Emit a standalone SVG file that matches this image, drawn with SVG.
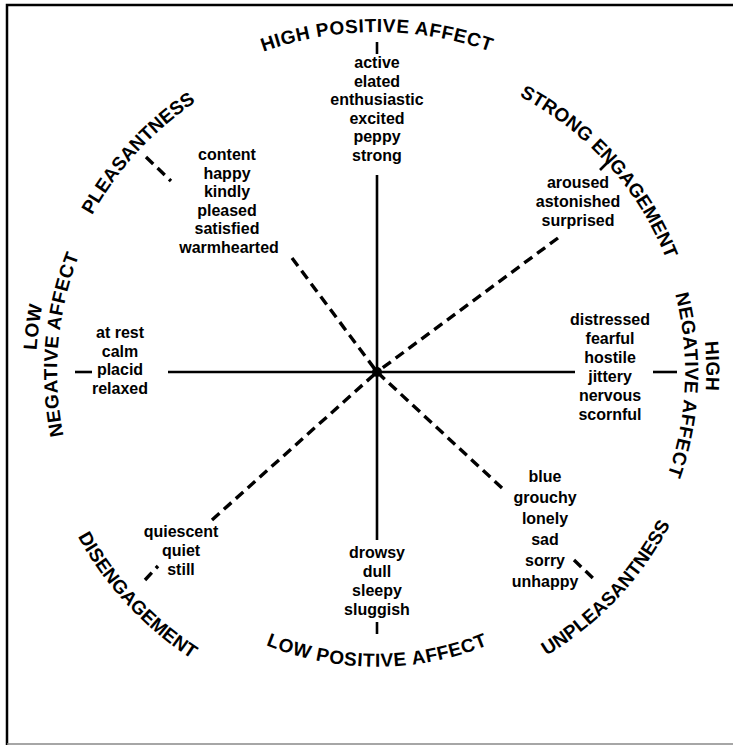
<svg xmlns="http://www.w3.org/2000/svg" width="733" height="745" viewBox="0 0 733 745">
<style>
.lab{font-family:"Liberation Sans",Arial,sans-serif;font-weight:700;font-size:19px;letter-spacing:0.6px;fill:#000}
.tight{letter-spacing:0.1px}
.w{font-family:"Liberation Sans",Arial,sans-serif;font-weight:700;font-size:16px;fill:#000;text-anchor:middle}
.solid{stroke:#000;stroke-width:2.6;fill:none}
.dash{stroke:#000;stroke-width:3.4;fill:none;stroke-dasharray:10 6}
.frame{stroke:#000;stroke-width:2.5;fill:none}
</style>
<defs>
<path id="pHPA" d="M38.3,342.4 A340,340 0 0 1 715.7,342.4"/>
<path id="pSE" d="M165.6,137.2 A316,316 0 0 1 588.4,606.8"/>
<path id="pPL" d="M154.4,614.9 A329.5,329.5 0 0 1 599.6,129.1"/>
<path id="pLOW" d="M332.5,710.1 A341,341 0 0 1 421.5,33.9"/>
<path id="pLNA" d="M349.1,690.8 A320,320 0 0 1 404.9,53.2"/>
<path id="pHIGH" d="M371.2,37.1 A335,335 0 0 1 382.8,706.9"/>
<path id="pHNA" d="M390.5,62.3 A310,310 0 0 1 363.5,681.7"/>
<path id="pUN" d="M149.7,613.3 A331.5,331.5 0 0 0 604.3,130.7"/>
<path id="pLPA" d="M83.6,397.7 A294.5,294.5 0 0 0 670.4,397.7"/>
<path id="pDIS" d="M144.1,122.2 A341.5,341.5 0 0 0 609.9,621.8"/>
</defs>
<rect width="733" height="745" fill="#fff"/>
<g id="frame">
<path class="frame" d="M7,745 V5 H733"/>
<path d="M7,744 H733" stroke="#888" stroke-width="1.5"/>
</g>
<g id="connectors">
<line class="solid" x1="377" y1="175" x2="377" y2="540"/>
<line class="solid" x1="168" y1="372" x2="575" y2="372"/>
<line class="dash" x1="292" y1="258" x2="377" y2="372"/>
<line class="dash" x1="558" y1="238" x2="377" y2="372"/>
<line class="dash" x1="212" y1="520" x2="377" y2="372"/>
<line class="dash" x1="502" y1="488" x2="377" y2="372"/>
<circle cx="377" cy="372" r="5" fill="#000"/>
<line class="solid" x1="377" y1="42" x2="377" y2="54"/>
<line class="solid" x1="377" y1="622" x2="377" y2="634"/>
<line class="solid" stroke-width="3" x1="75" y1="372" x2="92" y2="372"/>
<line class="solid" stroke-width="3" x1="653" y1="372" x2="677" y2="372"/>
<line class="dash" x1="146" y1="157" x2="171" y2="181"/>
<line class="solid" stroke-width="3.4" x1="600" y1="170" x2="609" y2="161"/>
<line class="dash" x1="145" y1="580" x2="158" y2="566"/>
<line class="dash" x1="574" y1="560" x2="597" y2="582"/>
</g>
<g id="high-positive-affect">
<text class="lab"><textPath href="#pHPA" startOffset="50%" text-anchor="middle">HIGH POSITIVE AFFECT</textPath></text>
<text class="w" x="377" y="68">active</text>
<text class="w" x="377" y="86.5">elated</text>
<text class="w" x="377" y="105">enthusiastic</text>
<text class="w" x="377" y="123.5">excited</text>
<text class="w" x="377" y="142">peppy</text>
<text class="w" x="377" y="160.5">strong</text>
</g>
<g id="strong-engagement">
<text class="lab tight"><textPath href="#pSE" startOffset="50%" text-anchor="middle">STRONG ENGAGEMENT</textPath></text>
<text class="w" x="578" y="188">aroused</text>
<text class="w" x="578" y="207">astonished</text>
<text class="w" x="578" y="226">surprised</text>
</g>
<g id="pleasantness">
<text class="lab tight"><textPath href="#pPL" startOffset="50%" text-anchor="middle">PLEASANTNESS</textPath></text>
<text class="w" x="227" y="160">content</text>
<text class="w" x="227" y="178.5">happy</text>
<text class="w" x="227" y="197">kindly</text>
<text class="w" x="227" y="215.5">pleased</text>
<text class="w" x="227" y="234">satisfied</text>
<text class="w" x="229" y="252.5">warmhearted</text>
</g>
<g id="low-negative-affect">
<text class="lab"><textPath href="#pLOW" startOffset="50%" text-anchor="middle">LOW</textPath></text>
<text class="lab"><textPath href="#pLNA" startOffset="50%" text-anchor="middle">NEGATIVE AFFECT</textPath></text>
<text class="w" x="120" y="338">at rest</text>
<text class="w" x="120" y="356.5">calm</text>
<text class="w" x="120" y="375">placid</text>
<text class="w" x="120" y="393.5">relaxed</text>
</g>
<g id="high-negative-affect">
<text class="lab"><textPath href="#pHIGH" startOffset="50%" text-anchor="middle">HIGH</textPath></text>
<text class="lab"><textPath href="#pHNA" startOffset="50%" text-anchor="middle">NEGATIVE AFFECT</textPath></text>
<text class="w" x="610" y="325">distressed</text>
<text class="w" x="610" y="344">fearful</text>
<text class="w" x="610" y="363">hostile</text>
<text class="w" x="610" y="382">jittery</text>
<text class="w" x="610" y="401">nervous</text>
<text class="w" x="610" y="420">scornful</text>
</g>
<g id="unpleasantness">
<text class="lab tight"><textPath href="#pUN" startOffset="50%" text-anchor="middle">UNPLEASANTNESS</textPath></text>
<text class="w" x="545" y="482">blue</text>
<text class="w" x="545" y="503">grouchy</text>
<text class="w" x="545" y="524">lonely</text>
<text class="w" x="545" y="545">sad</text>
<text class="w" x="545" y="566">sorry</text>
<text class="w" x="545" y="587">unhappy</text>
</g>
<g id="low-positive-affect">
<text class="lab"><textPath href="#pLPA" startOffset="50%" text-anchor="middle">LOW POSITIVE AFFECT</textPath></text>
<text class="w" x="377" y="558">drowsy</text>
<text class="w" x="377" y="577">dull</text>
<text class="w" x="377" y="596">sleepy</text>
<text class="w" x="377" y="615">sluggish</text>
</g>
<g id="disengagement">
<text class="lab tight"><textPath href="#pDIS" startOffset="50%" text-anchor="middle">DISENGAGEMENT</textPath></text>
<text class="w" x="181" y="537">quiescent</text>
<text class="w" x="181" y="556">quiet</text>
<text class="w" x="181" y="575">still</text>
</g>
</svg>
